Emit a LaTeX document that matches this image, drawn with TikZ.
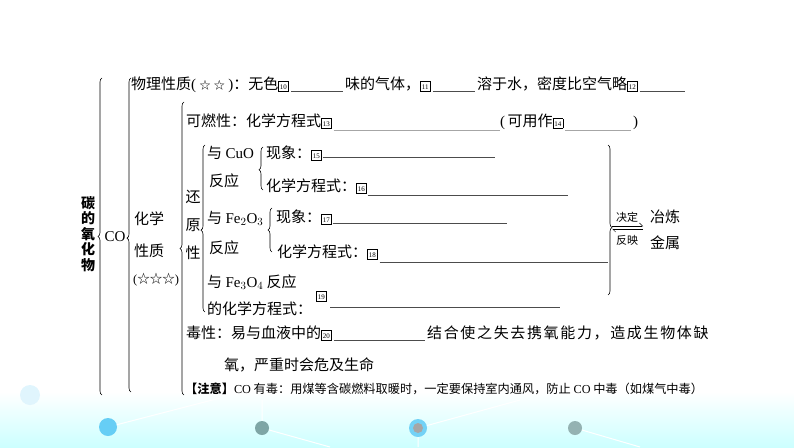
\documentclass[tikz,border=0pt]{standalone}
\usepackage{fontspec}
\setmainfont{Noto Sans CJK SC}
\newfontfamily\latin{Liberation Serif}
\usetikzlibrary{decorations.pathreplacing,arrows.meta}
% boxed answer number
\newcommand\qn[1]{{\fboxsep=0.9pt\fboxrule=0.45pt\fbox{\rule[-1.2pt]{0pt}{7.4pt}\makebox[7.6pt]{\fontsize{7}{7}\selectfont\latin #1}}}}
\newcommand\st{{\fontsize{11}{11}\selectfont ☆}}

\begin{document}
\begin{tikzpicture}[x=1pt,y=-1pt,>=latex,
  txt/.style={anchor=base west,inner sep=0pt,font=\fontsize{15}{15}\selectfont},
  sml/.style={inner sep=0pt,font=\fontsize{11}{11}\selectfont},
  blank/.style={draw=black!70,line width=0.5pt},
  brc/.style={draw,line width=0.6pt,decorate,decoration={brace,amplitude=4pt,aspect=#1}}]
\useasboundingbox (0,0) rectangle (794,447);

% background band
\shade[top color=white,bottom color=cyan!20] (0,392) rectangle (794,447);
\draw[white,line width=1pt] (108,427) -- (220,398) (262,428) -- (330,447) (418,428) -- (520,400)
  (575,428) -- (640,447) (418,428) -- (418,447) (262,428) -- (262,400);
\fill[cyan!12] (30,395) circle (10);
\fill[cyan!60!white] (108,427) circle (9);
\fill[teal!45!gray!70] (262,428) circle (7);
\fill[cyan!55!white] (418,428) circle (9);
\fill[gray!70] (418,428) circle (5);
\fill[teal!40!gray!60] (575,428) circle (7);

% braces
\draw[brc=0.5]  (102,395) -- (102,78);
\draw[brc=0.49] (131,392) -- (131,78);
\draw[brc=0.5]  (184,395) -- (184,102);
\draw[brc=0.49] (205,312) -- (205,145);
\draw[brc=0.47] (263,190) -- (263,147);
\draw[brc=0.5]  (272,252) -- (272,208);
\draw[brc=0.55] (608,145) -- (608,295);

% left labels
\node[inner sep=0pt,align=center,font=\bfseries\fontsize{14}{15.5}\selectfont] (oxide) at (88,234) {碳\\的\\氧\\化\\物};
\node[inner sep=0pt,font=\latin\fontsize{15}{15}\selectfont] (co) at (115,237) {CO};
\node[txt] (chem1) at (134,224) {化学};
\node[txt] (chem2) at (134,256) {性质};
\node[txt,font=\fontsize{12.5}{12.5}\selectfont] (chem3) at (133,283) {{\latin(}☆☆☆{\latin)}};
\node[inner sep=0pt,align=center,font=\fontsize{15}{28}\selectfont] (redu) at (193,225) {还\\原\\性};

% physical properties
\node[txt] (phys1) at (131,89) {物理性质{\latin(}\ \st\ \st\ {\latin)}：无色\qn{10}};
\node[txt] (phys2) at (345,89) {味的气体，\qn{11}};
\node[txt] (phys3) at (477,89) {溶于水，密度比空气略\qn{12}};
\coordinate (phys4) at (685,89);
\draw[blank] ([xshift=2pt,yshift=-2pt]phys1.base east) -- ([xshift=-2pt,yshift=-2pt]phys2.base west);
\draw[blank] ([xshift=2pt,yshift=-2pt]phys2.base east) -- ([xshift=-2pt,yshift=-2pt]phys3.base west);
\draw[blank] ([xshift=2pt,yshift=-2pt]phys3.base east) -- ([yshift=-2pt]phys4);

% combustion
\node[txt] (comb1) at (186,126) {可燃性：化学方程式\qn{13}};
\node[txt] (comb2) at (500,126) {{\latin(}\,可用作\qn{14}};
\node[txt] (comb3) at (633,126) {{\latin)}};
\draw[blank,draw=gray!70] ([xshift=2pt,yshift=-4pt]comb1.base east) -- ([yshift=-4pt]comb2.base west);
\draw[blank,draw=gray!70] ([xshift=2pt,yshift=-4pt]comb2.base east) -- ([xshift=-2pt,yshift=-4pt]comb3.base west);

% reduction with CuO
\node[txt] (cuoA) at (207,158) {与 {\latin CuO}};
\node[txt] (cuoB) at (209,186) {反应};
\node[txt] (cuo1) at (266,158) {现象：\qn{15}};
\node[txt] (cuo2) at (266,191) {化学方程式：\qn{16}};
\draw[blank] ([xshift=1pt,yshift=1pt]cuo1.base east) -- ++(172,0);
\draw[blank] ([xshift=1pt,yshift=-4pt]cuo2.base east) -- ++(200,0);

% reduction with Fe2O3
\node[txt] (feA) at (207,223) {与 {\latin Fe$_2$O$_3$}};
\node[txt] (feB) at (209,253) {反应};
\node[txt] (fe1) at (276,222) {现象：\qn{17}};
\node[txt] (fe2) at (277,257) {化学方程式：\qn{18}};
\draw[blank] ([xshift=1pt,yshift=-1pt]fe1.base east) -- ++(174,0);
\draw[blank] ([xshift=2pt,yshift=-5pt]fe2.base east) -- ++(228,0);

% reduction with Fe3O4
\node[txt] (fe3A) at (207,287) {与 {\latin Fe$_3$O$_4$} 反应};
\node[txt] (fe3B) at (207,314) {的化学方程式：};
\node[txt] (fe3C) at (316,299) {\qn{19}};
\draw[blank] ([xshift=18pt,yshift=7pt]fe3B.base east) -- ++(230,0);

% decides / reflects
\coordinate (dl) at (612,226);
\coordinate (dr) at (643,226);
\draw[line width=0.5pt,-{Straight Barb[harpoon,length=3pt]}] (dl) -- (dr);
\draw[line width=0.5pt,-{Straight Barb[harpoon,length=3pt]}] ([yshift=-3pt]dr) -- ([yshift=-3pt]dl);
\node[sml] (decide) at (627,217) {决定};
\node[sml] (reflect) at (627,240) {反映};
\node[txt] (use1) at (650,222) {冶炼};
\node[txt] (use2) at (650,248) {金属};

% toxicity
\node[txt] (tox1) at (186,338) {毒性：易与血液中的\qn{20}};
\node[txt] (tox2) at (427,338) {\addfontfeature{LetterSpace=11}结合使之失去携氧能力，造成生物体缺};
\node[txt] (tox3) at (224,370) {氧，严重时会危及生命};
\draw[blank] ([xshift=2pt,yshift=-2pt]tox1.base east) -- ([xshift=-2pt,yshift=-2pt]tox2.base west);

% note
\node[txt,font=\fontsize{12.2}{12.2}\selectfont] (note) at (185,393) {{\bfseries 【注意】}{\latin CO} 有毒：用煤等含碳燃料取暖时，一定要保持室内通风，防止 {\latin CO} 中毒（如煤气中毒）};
\end{tikzpicture}
\end{document}
